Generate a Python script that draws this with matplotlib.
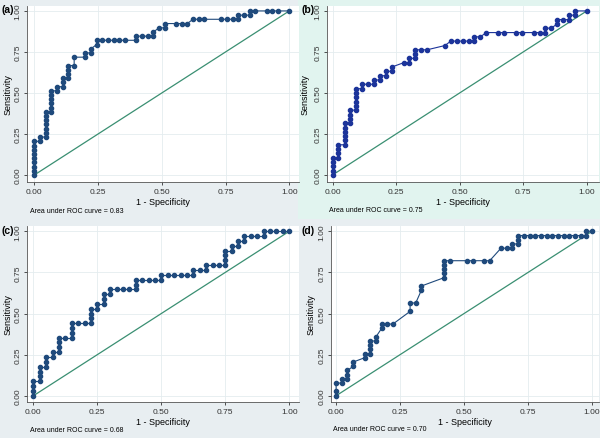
import matplotlib
matplotlib.use("Agg")
import matplotlib.pyplot as plt
from matplotlib.patches import Rectangle

plt.rcParams["font.family"] = ["Liberation Sans", "DejaVu Sans"]

# ROC points (1 - specificity, sensitivity)
fpr_a = [0, 0, 0, 0, 0, 0, 0, 0, 0, .022, .022,
         .044, .044, .044, .044, .044, .044, .044,
         .067, .067, .067, .067, .067, .067, .089, .089,
         .111, .111, .111, .133, .133, .133, .133, .156, .156,
         .200, .200, .222, .222, .244, .244,
         .267, .289, .311, .333, .356, .400, .400,
         .422, .444, .467, .467, .489, .511, .511,
         .556, .578, .600, .622, .644, .667,
         .733, .756, .778, .800, .800, .822, .844, .844,
         .867, .911, .933, .956, 1.0]
tpr_a = [0, .026, .051, .077, .103, .128, .154, .179, .205, .205, .231,
         .231, .256, .282, .308, .333, .359, .385,
         .385, .410, .436, .462, .487, .513, .513, .538,
         .538, .564, .590, .590, .615, .641, .667, .667, .718,
         .718, .744, .744, .769, .795, .821,
         .821, .821, .821, .821, .821, .821, .846,
         .846, .846, .846, .872, .897, .897, .923,
         .923, .923, .923, .949, .949, .949,
         .949, .949, .949, .949, .974, .974, .974, 1.0,
         1.0, 1.0, 1.0, 1.0, 1.0]

fpr_b = [0, 0, 0, 0, 0, .023, .023, .023, .023,
         .047, .047, .047, .047, .047, .047, .070, .070, .070, .070,
         .093, .093, .093, .093, .093, .093, .116, .116, .140,
         .163, .163, .186, .186, .209, .209, .233, .233,
         .279, .302, .302, .326, .326, .326, .349, .372,
         .442, .465, .488, .512, .535, .558, .558, .581, .605,
         .651, .674, .721, .744, .791, .814, .837, .837, .860,
         .884, .884, .907, .930, .930, .953, .953, 1.0]
tpr_b = [0, .026, .053, .079, .105, .105, .132, .158, .184,
         .184, .211, .237, .263, .289, .316, .316, .342, .368, .395,
         .395, .421, .447, .474, .500, .526, .526, .553, .553,
         .553, .579, .579, .605, .605, .632, .632, .658,
         .684, .684, .711, .711, .737, .763, .763, .763,
         .789, .816, .816, .816, .816, .816, .842, .842, .868,
         .868, .868, .868, .868, .868, .868, .868, .895, .895,
         .921, .947, .947, .947, .974, .974, 1.0, 1.0]

fpr_c = [0, 0, 0, 0, .025, .025, .025, .025, .050, .050, .050,
         .075, .075, .100, .100, .100, .100, .125,
         .150, .150, .150, .150, .175, .200,
         .225, .225, .225, .225, .250, .250, .275, .275, .275,
         .300, .300, .325, .350, .375, .400, .400, .400,
         .425, .450, .475, .500, .500,
         .525, .550, .575, .600, .625, .625,
         .650, .675, .675, .700, .725, .750, .750, .750, .750,
         .775, .775, .800, .800, .825, .825,
         .850, .875, .900, .900, .925, .950, .975, 1.0]
tpr_c = [0, .029, .059, .088, .088, .118, .147, .176, .176, .206, .235,
         .235, .265, .265, .294, .324, .353, .353,
         .353, .382, .412, .441, .441, .441,
         .441, .471, .500, .529, .529, .559, .559, .588, .618,
         .618, .647, .647, .647, .647, .647, .676, .706,
         .706, .706, .706, .706, .735,
         .735, .735, .735, .735, .735, .765,
         .765, .765, .794, .794, .794, .794, .824, .853, .882,
         .882, .912, .912, .941, .941, .971,
         .971, .971, .971, 1.0, 1.0, 1.0, 1.0, 1.0]

fpr_d = [0, 0, 0, .022, .022, .044, .044, .044, .067, .067,
         .111, .111, .133, .133, .133, .133, .156, .156,
         .178, .178, .200, .222, .289, .289, .311, .333, .333,
         .422, .422, .422, .422, .422, .444,
         .511, .533, .578, .600, .644, .667, .689, .689,
         .711, .711, .711,
         .733, .756, .778, .800, .822, .844, .867, .889, .911, .933, .956, .978,
         .978, 1.0]
tpr_d = [0, .026, .077, .077, .103, .103, .128, .154, .179, .205,
         .231, .256, .256, .282, .308, .333, .333, .359,
         .410, .436, .436, .436, .513, .564, .564, .641, .667,
         .718, .744, .769, .795, .821, .821,
         .821, .821, .821, .821, .897, .897, .897, .923,
         .923, .949, .974,
         .974, .974, .974, .974, .974, .974, .974, .974, .974, .974, .974, .974,
         1.0, 1.0]

labels = ["(a)", "(b)", "(c)", "(d)"]
auc_text = ["Area under ROC curve = 0.83", "Area under ROC curve = 0.75",
            "Area under ROC curve = 0.68", "Area under ROC curve = 0.70"]
ticks = [0, 0.25, 0.5, 0.75, 1.0]
tick_labels = ["0.00", "0.25", "0.50", "0.75", "1.00"]

W, H = 600, 439
fig = plt.figure(figsize=(6, 4.39), dpi=100)
fig.patch.set_facecolor("#e8eef1")

# panel (b) has its own mint background
fig.patches.append(Rectangle((298 / W, 1 - 220 / H), 302 / W, 220 / H,
                             transform=fig.transFigure, facecolor="#e1f4ef",
                             edgecolor="none", zorder=-10))

# pixel boxes (left, right, top, bottom) and axis limits for each panel
boxes = [(27, 299, 7, 183), (327, 599, 7, 183),
         (27, 299, 227, 403), (331, 599, 227, 403)]
xlims = [(-0.029, 1.038), (-0.022, 1.048), (-0.025, 1.038), (-0.020, 1.027)]
ylims = [(-0.043, 1.030), (-0.043, 1.030), (-0.038, 1.032), (-0.038, 1.032)]
colors = ["#1f4a7c", "#1c349a", "#1f4a7c", "#1f4a7c"]
data = [(fpr_a, tpr_a), (fpr_b, tpr_b), (fpr_c, tpr_c), (fpr_d, tpr_d)]
# text anchor positions in pixels: panel label, auc note, y label edge
lab_pos = [(2, 10), (301, 10), (2, 231), (302, 231)]
auc_pos = [(30, 212), (329, 211), (30, 431), (333, 430)]
ylab_x = [13, 310, 13, 316]

for k in range(4):
    l, r, t, b = boxes[k]
    ax = fig.add_axes([l / W, 1 - b / H, (r - l) / W, (b - t) / H])
    ax.set_facecolor("white")
    x, y = data[k]
    ax.plot([0, 1], [0, 1], color="#3a8f72", lw=0.9, zorder=2)
    ax.plot(x, y, color=colors[k], lw=0.8, marker="o", ms=3.0,
            mec=colors[k], mfc=colors[k], zorder=3)
    ax.set_xlim(*xlims[k])
    ax.set_ylim(*ylims[k])
    ax.set_xticks(ticks)
    ax.set_xticklabels(tick_labels)
    ax.set_yticks(ticks)
    ax.set_yticklabels(tick_labels, rotation=90, va="center")
    ax.tick_params(labelsize=6, length=2.5, width=0.6, pad=1.5,
                   colors="#333333")
    ax.grid(True, color="#e4ecef", lw=0.6)
    ax.set_axisbelow(True)
    for s in ["top", "right"]:
        ax.spines[s].set_visible(False)
    for s in ["left", "bottom"]:
        ax.spines[s].set_color("#555555")
        ax.spines[s].set_linewidth(0.6)
    ax.set_xlabel("1 - Specificity", fontsize=6.5)
    ax.set_ylabel("Sensitivity", fontsize=6.5)
    ax.xaxis.set_label_coords(0.5, -15 / (b - t))
    ax.yaxis.set_label_coords((ylab_x[k] - l) / (r - l), 0.5)
    fig.text(lab_pos[k][0] / W, 1 - lab_pos[k][1] / H, labels[k],
             fontsize=7.5, fontweight="bold", va="center", ha="left")
    fig.text(auc_pos[k][0] / W, 1 - auc_pos[k][1] / H, auc_text[k],
             fontsize=5, va="center", ha="left")

fig.savefig("out.png", dpi=100, facecolor=fig.get_facecolor())
